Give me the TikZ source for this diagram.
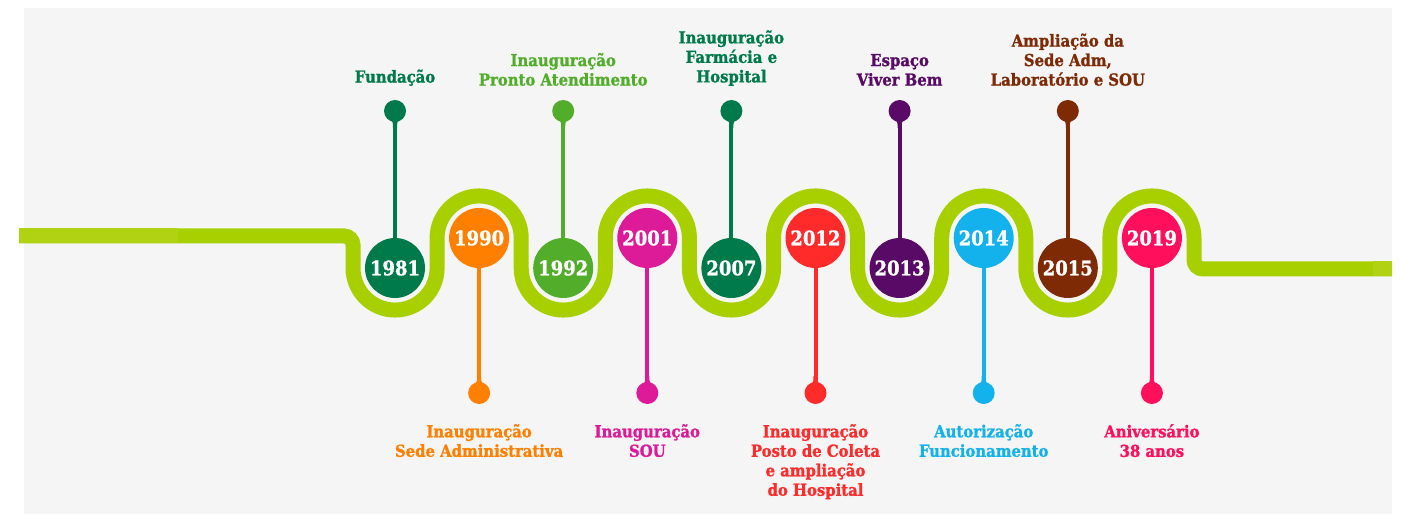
\documentclass[tikz,border=0pt]{standalone}
\usepackage{fontspec}
\IfFontExistsTF{DejaVu Serif Condensed Bold}
  {\newfontfamily\lblfont{DejaVu Serif Condensed Bold}[FakeBold=1.2]}
  {\newfontfamily\lblfont{DejaVu Serif}[FakeStretch=0.88,BoldFont={* Bold}]}
\definecolor{bgc}{HTML}{F5F5F5}
\definecolor{wavec}{HTML}{A8D000}
\definecolor{wavel}{HTML}{B1D212}
\definecolor{cA}{HTML}{007A4A}
\definecolor{cB}{HTML}{FF8000}
\definecolor{cC}{HTML}{52AD2B}
\definecolor{cD}{HTML}{DD1A98}
\definecolor{cE}{HTML}{007A4A}
\definecolor{cF}{HTML}{FF2A2A}
\definecolor{cG}{HTML}{580A66}
\definecolor{cH}{HTML}{14B2EC}
\definecolor{cI}{HTML}{7E2A05}
\definecolor{cJ}{HTML}{FF0F5C}
\tikzset{
  yr/.style={circle, minimum size=60pt, inner sep=0pt, text=white,
    font=\lblfont\fontsize{20}{20}\selectfont},
  head/.style={circle, minimum size=22pt, inner sep=0pt},
  stem/.style={line width=4pt},
  lbl/.style={align=center, inner sep=0pt,
    font=\lblfont\fontsize{16.5}{19.5}\selectfont},
  wave/.style={draw=wavec, line width=15pt}
}
% #1 name, #2 x, #3 colour, #4 year, #5 label
\newcommand\evtup[5]{%
  \node[yr, fill=#3] (y#1) at (#2,246) {#4};
  \node[head, fill=#3] (h#1) at (#2,403) {};
  \fill[#3] (#2-6,396) .. controls (#2-2,392) .. (#2-2,386) -- (#2+2,386) .. controls (#2+2,392) .. (#2+6,396) -- cycle;
  \draw[stem, draw=#3] (y#1) -- (h#1);
  \node[lbl, text=#3, anchor=south] (l#1) at (#2,428) {#5};
}
\newcommand\evtdown[5]{%
  \node[yr, fill=#3] (y#1) at (#2,276) {#4};
  \node[head, fill=#3] (h#1) at (#2,121) {};
  \fill[#3] (#2-6,128) .. controls (#2-2,132) .. (#2-2,138) -- (#2+2,138) .. controls (#2+2,132) .. (#2+6,128) -- cycle;
  \draw[stem, draw=#3] (y#1) -- (h#1);
  \node[lbl, text=#3, anchor=north] (l#1) at (#2,90) {#5};
}
\begin{document}
\begin{tikzpicture}[x=1pt,y=1pt]
\useasboundingbox (0,0) rectangle (1408,514);
\fill[white] (0,0) rectangle (1408,514);
\fill[bgc] (24,0) rectangle (1392,506);
% wave
\draw[wave] (19,278) -- (344,278) arc(90:0:9) -- (353,246)
  arc(180:360:42.05) -- (437.1,276)
  arc(180:0:42.05) -- (521.2,246)
  arc(180:360:42.05) -- (605.3,276)
  arc(180:0:42.05) -- (689.4,246)
  arc(180:360:42.05) -- (773.5,276)
  arc(180:0:42.05) -- (857.6,246)
  arc(180:360:42.05) -- (941.7,276)
  arc(180:0:42.05) -- (1025.8,246)
  arc(180:360:42.05) -- (1109.9,276)
  arc(180:0:42.05) -- (1194,254) arc(180:270:9) -- (1392,245);
\fill[wavel] (19,270.5) rectangle (178,285.5);
\fill[wavel] (1373,237.5) rectangle (1392,252.5);
% events
\evtup{a}{395}{cA}{1981}{Fundação}
\evtdown{b}{479.1}{cB}{1990}{Inauguração\\Sede Administrativa}
\evtup{c}{563.2}{cC}{1992}{Inauguração\\Pronto Atendimento}
\evtdown{d}{647.3}{cD}{2001}{Inauguração\\SOU}
\evtup{e}{731.4}{cE}{2007}{Inauguração\\Farmácia e\\Hospital}
\evtdown{f}{815.5}{cF}{2012}{Inauguração\\Posto de Coleta\\e ampliação\\do Hospital}
\evtup{g}{899.6}{cG}{2013}{Espaço\\Viver Bem}
\evtdown{h}{983.7}{cH}{2014}{Autorização\\Funcionamento}
\evtup{i}{1067.8}{cI}{2015}{Ampliação da\\Sede Adm,\\Laboratório e SOU}
\evtdown{j}{1151.9}{cJ}{2019}{Aniversário\\38 anos}
\end{tikzpicture}
\end{document}
